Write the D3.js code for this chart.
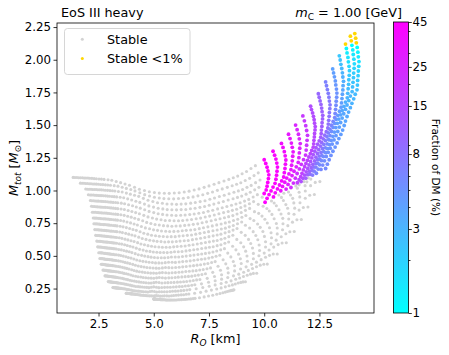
<!DOCTYPE html>
<html>
<head>
<meta charset="utf-8">
<style>
  body { margin: 0; background: #fff; }
  svg text { font-family: "DejaVu Sans", sans-serif; fill: #000; }
</style>
</head>
<body>
<div class="container"></div>
<script src="https://d3js.org/d3.v7.min.js"></script>
<script>
/*
    Data: every sequence of solutions (one array per sequence),
    R_O in km and M_tot in solar masses
*/
const seq_R = [
  [1.35,1.68,1.92,2.04,2.13,2.18,2.22,2.26,2.29,2.33,2.37,2.42,2.46,2.51,2.56,2.62,2.70,2.79,2.94,3.15,3.75,5.00],
  [1.43,1.76,2.00,2.12,2.20,2.25,2.29,2.33,2.35,2.39,2.43,2.47,2.51,2.56,2.61,2.66,2.74,2.82,2.97,3.17,3.77,5.01],
  [1.52,1.84,2.08,2.19,2.28,2.32,2.36,2.39,2.42,2.45,2.48,2.53,2.56,2.61,2.65,2.70,2.78,2.86,3.00,3.20,3.78,5.01],
  [1.60,1.92,2.16,2.27,2.35,2.39,2.43,2.46,2.48,2.51,2.54,2.58,2.61,2.65,2.69,2.74,2.81,2.89,3.03,3.22,3.80,5.02],
  [1.68,2.00,2.23,2.34,2.43,2.46,2.49,2.52,2.54,2.57,2.60,2.64,2.66,2.70,2.74,2.79,2.85,2.92,3.06,3.25,3.82,5.03],
  [1.77,2.08,2.31,2.42,2.50,2.54,2.56,2.59,2.60,2.63,2.65,2.69,2.71,2.75,2.78,2.83,2.89,2.96,3.08,3.27,3.84,5.03],
  [1.85,2.16,2.39,2.50,2.58,2.61,2.63,2.65,2.67,2.69,2.71,2.74,2.77,2.80,2.83,2.87,2.92,2.99,3.11,3.29,3.85,5.04],
  [1.93,2.25,2.47,2.57,2.65,2.68,2.70,2.72,2.73,2.75,2.77,2.80,2.82,2.84,2.87,2.91,2.96,3.02,3.14,3.32,3.87,5.05],
  [2.02,2.33,2.55,2.65,2.72,2.75,2.77,2.79,2.79,2.81,2.83,2.85,2.87,2.89,2.92,2.95,3.00,3.06,3.17,3.34,3.89,5.05],
  [2.10,2.41,2.63,2.73,2.80,2.82,2.84,2.85,2.86,2.87,2.88,2.90,2.92,2.94,2.96,2.99,3.04,3.09,3.20,3.37,3.90,5.06],
  [2.20,2.50,2.72,2.82,2.89,2.91,2.92,2.93,2.93,2.94,2.95,2.97,2.98,2.99,3.01,3.04,3.08,3.13,3.23,3.40,3.92,5.07],
  [2.30,2.60,2.81,2.91,2.97,2.99,3.00,3.01,3.00,3.01,3.02,3.03,3.04,3.05,3.07,3.09,3.13,3.17,3.27,3.42,3.95,5.08],
  [2.40,2.70,2.91,3.00,3.06,3.07,3.08,3.09,3.08,3.08,3.08,3.10,3.10,3.11,3.12,3.13,3.17,3.21,3.30,3.45,3.97,5.09],
  [2.52,2.81,3.02,3.11,3.16,3.17,3.17,3.18,3.17,3.16,3.16,3.17,3.17,3.17,3.18,3.19,3.22,3.26,3.34,3.49,3.99,5.10],
  [2.63,2.92,3.13,3.21,3.27,3.27,3.27,3.27,3.25,3.25,3.24,3.24,3.24,3.24,3.24,3.25,3.27,3.30,3.38,3.52,4.01,5.11],
  [2.75,3.04,3.24,3.32,3.37,3.37,3.37,3.36,3.34,3.33,3.32,3.32,3.31,3.31,3.30,3.31,3.33,3.35,3.42,3.55,4.04,5.12],
  [2.93,3.21,3.40,3.48,3.53,3.52,3.51,3.50,3.48,3.46,3.44,3.44,3.42,3.41,3.40,3.40,3.41,3.42,3.49,3.61,4.08,5.14],
  [3.10,3.38,3.57,3.64,3.68,3.67,3.66,3.64,3.61,3.58,3.56,3.55,3.53,3.51,3.50,3.48,3.49,3.50,3.55,3.66,4.12,5.16],
  [3.30,3.57,3.76,3.82,3.86,3.84,3.82,3.79,3.76,3.73,3.70,3.68,3.65,3.62,3.60,3.58,3.58,3.58,3.62,3.72,4.16,5.18],
  [3.50,3.76,3.94,4.00,4.04,4.01,3.98,3.95,3.91,3.87,3.83,3.80,3.77,3.74,3.70,3.68,3.66,3.65,3.69,3.78,4.20,5.20],
  [3.70,3.96,4.13,4.19,4.21,4.18,4.14,4.11,4.06,4.01,3.97,3.93,3.89,3.85,3.81,3.78,3.76,3.74,3.76,3.84,4.25,5.23],
  [3.90,4.15,4.32,4.37,4.39,4.35,4.31,4.26,4.21,4.15,4.11,4.06,4.01,3.97,3.92,3.88,3.85,3.82,3.84,3.90,4.30,5.25],
  [4.13,4.37,4.53,4.58,4.59,4.55,4.50,4.44,4.38,4.32,4.27,4.21,4.16,4.10,4.05,4.00,3.96,3.92,3.93,3.98,4.36,5.28],
  [4.35,4.59,4.74,4.78,4.79,4.74,4.68,4.62,4.55,4.48,4.42,4.36,4.30,4.23,4.17,4.11,4.06,4.01,4.01,4.05,4.41,5.31],
  [4.58,4.81,4.96,4.99,5.00,4.94,4.87,4.81,4.73,4.65,4.58,4.52,4.45,4.37,4.30,4.23,4.18,4.12,4.10,4.13,4.47,5.35],
  [4.80,5.03,5.17,5.20,5.20,5.13,5.06,4.99,4.90,4.82,4.74,4.67,4.59,4.51,4.43,4.35,4.29,4.22,4.19,4.20,4.53,5.38],
  [5.03,5.25,5.39,5.41,5.40,5.33,5.25,5.17,5.08,4.99,4.90,4.83,4.74,4.65,4.56,4.48,4.41,4.33,4.29,4.29,4.60,5.42],
  [5.25,5.46,5.60,5.61,5.60,5.52,5.44,5.35,5.25,5.15,5.06,4.98,4.88,4.79,4.69,4.60,4.52,4.43,4.38,4.37,4.66,5.46],
  [5.48,5.68,5.82,5.82,5.81,5.72,5.63,5.54,5.43,5.33,5.23,5.14,5.03,4.94,4.83,4.73,4.64,4.54,4.48,4.46,4.73,5.51],
  [5.70,5.90,6.03,6.03,6.01,5.92,5.82,5.72,5.61,5.50,5.39,5.29,5.18,5.08,4.97,4.86,4.76,4.65,4.58,4.54,4.80,5.55],
  [5.93,6.12,6.24,6.24,6.22,6.12,6.01,5.91,5.79,5.67,5.56,5.45,5.34,5.23,5.11,4.99,4.88,4.77,4.68,4.64,4.88,5.60],
  [6.15,6.34,6.45,6.45,6.42,6.31,6.20,6.10,5.97,5.84,5.73,5.61,5.49,5.37,5.24,5.12,5.00,4.88,4.78,4.73,4.95,5.65],
  [6.38,6.56,6.67,6.66,6.63,6.51,6.40,6.29,6.15,6.02,5.90,5.78,5.65,5.52,5.39,5.26,5.13,5.00,4.89,4.83,5.03,5.71],
  [6.60,6.78,6.88,6.87,6.83,6.71,6.59,6.47,6.33,6.19,6.06,5.94,5.80,5.67,5.53,5.39,5.25,5.11,5.00,4.92,5.11,5.76],
  [6.83,7.00,7.10,7.09,7.04,6.92,6.79,6.67,6.52,6.38,6.24,6.11,5.97,5.83,5.68,5.54,5.39,5.24,5.12,5.03,5.20,5.82],
  [7.05,7.22,7.32,7.30,7.25,7.12,6.99,6.86,6.71,6.56,6.42,6.28,6.13,5.98,5.83,5.68,5.53,5.37,5.23,5.13,5.29,5.88],
  [7.28,7.44,7.54,7.51,7.46,7.33,7.19,7.06,6.90,6.75,6.60,6.46,6.30,6.15,5.99,5.83,5.68,5.51,5.36,5.25,5.39,5.95],
  [7.50,7.66,7.75,7.72,7.67,7.53,7.39,7.25,7.09,6.93,6.78,6.63,6.47,6.31,6.15,5.98,5.82,5.64,5.49,5.36,5.48,6.02],
  [7.73,7.88,7.97,7.94,7.89,7.74,7.60,7.45,7.29,7.12,6.97,6.81,6.65,6.48,6.31,6.14,5.97,5.78,5.62,5.48,5.59,6.10],
  [7.95,8.10,8.19,8.15,8.10,7.95,7.80,7.65,7.48,7.31,7.15,6.98,6.82,6.65,6.47,6.29,6.11,5.92,5.75,5.60,5.69,6.17],
  [8.18,8.33,8.41,8.37,8.31,8.16,8.00,7.85,7.68,7.50,7.34,7.17,7.00,6.82,6.64,6.45,6.27,6.07,5.89,5.73,5.80,6.25],
  [8.40,8.55,8.63,8.59,8.52,8.37,8.20,8.05,7.87,7.69,7.52,7.35,7.17,6.99,6.80,6.61,6.42,6.21,6.02,5.85,5.90,6.33],
  [8.60,8.75,8.83,8.79,8.72,8.56,8.39,8.24,8.06,7.87,7.70,7.52,7.34,7.16,6.96,6.77,6.57,6.35,6.16,5.98,6.01,6.42],
  [8.80,8.94,9.02,8.98,8.91,8.75,8.58,8.42,8.24,8.04,7.87,7.69,7.51,7.32,7.12,6.92,6.72,6.49,6.29,6.10,6.12,6.50],
  [9.00,9.14,9.22,9.18,9.11,8.94,8.77,8.61,8.42,8.23,8.05,7.87,7.68,7.49,7.29,7.08,6.87,6.64,6.43,6.23,6.24,6.59],
  [9.20,9.34,9.41,9.37,9.30,9.13,8.96,8.80,8.60,8.41,8.22,8.04,7.85,7.65,7.45,7.24,7.02,6.79,6.57,6.36,6.35,6.68],
  [9.40,9.54,9.61,9.57,9.50,9.33,9.15,8.99,8.79,8.59,8.40,8.22,8.03,7.82,7.62,7.41,7.18,6.94,6.72,6.50,6.47,6.78],
  [9.60,9.73,9.81,9.76,9.69,9.52,9.34,9.17,8.98,8.77,8.58,8.39,8.20,7.99,7.78,7.57,7.34,7.09,6.86,6.63,6.59,6.87],
  [10.00,10.07,10.13,10.17,10.21,10.19,10.16,10.13,10.09,10.00,9.91,9.73,9.56,9.36,9.15,8.96,8.76,8.57,8.35,8.14,7.91,7.67,7.42,7.16,6.92,6.85,7.07],
  [10.40,10.47,10.53,10.57,10.60,10.58,10.56,10.53,10.49,10.40,10.31,10.22,10.13,10.04,9.95,9.75,9.53,9.34,9.14,8.94,8.72,8.49,8.26,8.02,7.75,7.48,7.22,7.12,7.28],
  [10.78,10.85,10.91,10.95,10.98,10.96,10.94,10.91,10.88,10.79,10.69,10.60,10.50,10.42,10.33,10.12,9.90,9.70,9.50,9.29,9.07,8.84,8.60,8.35,8.07,7.78,7.51,7.37,7.48],
  [11.10,11.17,11.23,11.27,11.31,11.29,11.27,11.24,11.21,11.12,11.02,10.93,10.83,10.75,10.66,10.45,10.23,10.03,9.82,9.62,9.39,9.16,8.92,8.66,8.37,8.07,7.78,7.61,7.67],
  [11.42,11.49,11.55,11.59,11.63,11.61,11.59,11.57,11.54,11.45,11.35,11.26,11.16,11.08,10.99,10.89,10.78,10.55,10.35,10.14,9.94,9.71,9.47,9.22,8.96,8.66,8.35,8.05,7.85,7.85],
  [11.75,11.82,11.88,11.92,11.96,11.94,11.92,11.90,11.87,11.78,11.68,11.59,11.49,11.41,11.32,11.21,11.10,10.87,10.67,10.45,10.24,10.01,9.77,9.51,9.24,8.93,8.61,8.28,8.05,8.00],
  [12.10,12.14,12.19,12.23,12.26,12.28,12.31,12.30,12.28,12.27,12.25,12.24,12.22,12.15,12.09,12.02,11.96,11.89,11.83,11.77,11.71,11.65,11.58,11.50,11.43,11.19,10.98,10.76,10.55,10.31,10.06,9.79,9.51,9.18,8.85,8.50,8.24,8.13],
  [12.45,12.49,12.53,12.57,12.60,12.62,12.65,12.64,12.62,12.61,12.59,12.58,12.56,12.49,12.42,12.35,12.29,12.22,12.16,12.10,12.03,11.97,11.90,11.82,11.75,11.67,11.58,11.50,11.29,11.06,10.84,10.59,10.33,10.06,9.76,9.43,9.07,8.71,8.41,8.24],
  [12.78,12.82,12.86,12.90,12.93,12.95,12.98,12.97,12.95,12.94,12.92,12.90,12.88,12.81,12.74,12.67,12.60,12.54,12.47,12.41,12.34,12.28,12.20,12.13,12.05,11.97,11.88,11.80,11.58,11.34,11.11,10.85,10.59,10.31,10.00,9.65,9.28,8.89,8.56,8.33],
  [13.10,13.14,13.18,13.22,13.24,13.27,13.29,13.28,13.26,13.25,13.23,13.21,13.19,13.12,13.04,12.97,12.90,12.84,12.77,12.70,12.64,12.57,12.49,12.42,12.34,12.25,12.17,12.08,12.00,11.93,11.85,11.61,11.38,11.11,10.83,10.54,10.22,9.86,9.47,9.06,8.69,8.41],
  [13.40,13.44,13.47,13.51,13.54,13.56,13.59,13.57,13.56,13.54,13.52,13.50,13.48,13.41,13.33,13.26,13.19,13.12,13.05,12.98,12.92,12.85,12.77,12.69,12.61,12.52,12.43,12.34,12.26,12.19,12.11,11.86,11.62,11.35,11.07,10.77,10.43,10.06,9.65,9.23,8.82,8.48],
  [13.68,13.72,13.75,13.79,13.81,13.84,13.86,13.85,13.83,13.82,13.80,13.78,13.76,13.68,13.61,13.53,13.46,13.38,13.31,13.24,13.18,13.11,13.03,12.95,12.87,12.78,12.68,12.59,12.51,12.44,12.36,12.10,11.86,11.58,11.28,10.98,10.63,10.24,9.82,9.38,8.94,8.54],
  [13.90,13.94,13.97,14.01,14.03,14.06,14.08,14.07,14.05,14.04,14.02,14.00,13.98,13.90,13.83,13.75,13.68,13.60,13.53,13.46,13.40,13.33,13.25,13.16,13.08,12.99,12.90,12.81,12.73,12.65,12.57,12.31,12.06,11.77,11.48,11.16,10.81,10.41,9.98,9.51,9.04,8.59],
  [14.10,14.14,14.17,14.21,14.24,14.26,14.29,14.28,14.26,14.25,14.23,14.22,14.20,14.12,14.05,13.97,13.90,13.82,13.75,13.68,13.62,13.55,13.47,13.38,13.30,13.21,13.11,13.02,12.94,12.86,12.78,12.52,12.27,11.98,11.68,11.36,11.00,10.59,10.14,9.66,9.15,8.63]
];
const seq_M = [
  [1.100,1.056,1.011,.967,.923,.879,.834,.790,.746,.701,.657,.613,.569,.524,.480,.436,.391,.347,.303,.258,.214,.170],
  [1.099,1.055,1.010,.966,.922,.878,.833,.789,.745,.700,.656,.612,.568,.524,.479,.435,.391,.347,.302,.258,.214,.170],
  [1.099,1.055,1.010,.966,.921,.877,.833,.789,.745,.700,.656,.612,.568,.523,.479,.435,.390,.346,.302,.257,.214,.170],
  [1.098,1.054,1.009,.965,.920,.876,.832,.788,.744,.699,.655,.611,.567,.523,.478,.434,.390,.346,.301,.257,.214,.170],
  [1.097,1.053,1.008,.964,.919,.875,.831,.787,.743,.698,.654,.610,.566,.522,.477,.433,.389,.345,.300,.256,.213,.170],
  [1.097,1.052,1.008,.963,.919,.874,.830,.785,.741,.697,.653,.608,.564,.520,.475,.431,.387,.344,.300,.256,.213,.169],
  [1.096,1.051,1.007,.962,.918,.873,.829,.784,.740,.696,.652,.607,.563,.519,.474,.430,.386,.343,.299,.255,.212,.169],
  [1.095,1.050,1.006,.961,.917,.872,.828,.783,.739,.695,.651,.606,.562,.518,.473,.429,.385,.342,.298,.255,.212,.169],
  [1.095,1.050,1.006,.961,.916,.872,.828,.783,.739,.694,.650,.606,.561,.517,.473,.429,.385,.342,.298,.254,.212,.169],
  [1.094,1.049,1.005,.960,.915,.871,.827,.782,.738,.693,.649,.605,.560,.516,.472,.428,.384,.341,.297,.254,.212,.169],
  [1.093,1.048,1.004,.959,.914,.870,.825,.781,.737,.692,.648,.604,.559,.515,.471,.427,.383,.340,.296,.253,.211,.169],
  [1.091,1.046,1.002,.957,.912,.868,.824,.779,.735,.690,.646,.602,.558,.513,.470,.426,.382,.339,.296,.253,.211,.168],
  [1.090,1.045,1.001,.956,.911,.867,.822,.778,.734,.689,.645,.601,.557,.512,.469,.425,.381,.338,.295,.252,.210,.168],
  [1.088,1.043,.999,.954,.909,.865,.820,.776,.732,.688,.644,.599,.555,.511,.467,.424,.380,.337,.294,.251,.210,.168],
  [1.087,1.042,.998,.953,.908,.863,.819,.775,.731,.686,.642,.598,.554,.509,.466,.422,.379,.336,.293,.251,.209,.168],
  [1.085,1.040,.996,.951,.906,.861,.817,.773,.729,.685,.641,.596,.552,.508,.464,.421,.378,.335,.292,.250,.209,.168],
  [1.082,1.037,.992,.948,.903,.858,.814,.770,.726,.682,.638,.593,.549,.506,.462,.419,.376,.333,.291,.249,.208,.168],
  [1.078,1.033,.988,.944,.899,.855,.810,.766,.722,.678,.634,.590,.546,.503,.459,.416,.373,.331,.289,.248,.207,.167],
  [1.069,1.025,.980,.936,.891,.847,.803,.759,.716,.672,.628,.585,.541,.498,.455,.412,.370,.328,.287,.246,.206,.167],
  [1.060,1.016,.972,.927,.883,.839,.796,.752,.709,.666,.622,.579,.536,.493,.450,.408,.366,.324,.284,.244,.205,.166],
  [1.050,1.007,.964,.918,.874,.831,.788,.744,.702,.660,.616,.574,.531,.488,.446,.404,.363,.321,.282,.243,.204,.166],
  [1.040,.997,.955,.909,.865,.822,.779,.736,.695,.653,.610,.568,.525,.483,.441,.400,.359,.318,.279,.241,.203,.166],
  [1.025,.983,.940,.896,.853,.810,.768,.725,.684,.643,.601,.559,.517,.476,.435,.394,.354,.314,.276,.238,.202,.166],
  [1.010,.968,.925,.882,.840,.798,.756,.714,.673,.633,.591,.550,.509,.468,.428,.388,.348,.310,.272,.235,.200,.165],
  [1.000,.958,.916,.873,.831,.790,.748,.707,.666,.626,.585,.544,.504,.463,.423,.383,.344,.307,.269,.233,.199,.165],
  [.990,.948,.906,.864,.822,.781,.740,.699,.658,.619,.578,.537,.498,.458,.418,.378,.340,.303,.266,.231,.198,.164],
  [.985,.943,.902,.859,.817,.776,.736,.695,.654,.615,.574,.534,.494,.455,.415,.376,.338,.301,.265,.230,.197,.164],
  [.980,.938,.897,.854,.812,.771,.731,.690,.650,.611,.570,.530,.490,.451,.411,.373,.335,.298,.263,.229,.196,.164],
  [.979,.937,.896,.853,.811,.770,.729,.688,.648,.609,.568,.528,.488,.449,.409,.371,.333,.296,.262,.228,.195,.164],
  [.978,.936,.894,.852,.809,.768,.727,.686,.646,.606,.566,.526,.485,.446,.407,.368,.331,.294,.260,.226,.194,.163],
  [.981,.939,.896,.854,.811,.769,.728,.687,.647,.607,.566,.526,.485,.446,.406,.368,.330,.293,.259,.225,.194,.163],
  [.983,.941,.898,.855,.812,.770,.729,.688,.647,.607,.566,.525,.485,.445,.405,.367,.329,.292,.257,.224,.193,.162],
  [.989,.946,.903,.860,.816,.774,.733,.692,.651,.610,.569,.528,.488,.448,.408,.370,.332,.295,.260,.227,.195,.162],
  [.995,.951,.908,.864,.820,.778,.736,.695,.654,.613,.572,.531,.491,.451,.411,.372,.335,.298,.263,.229,.197,.162],
  [1.004,.959,.915,.871,.826,.784,.741,.698,.657,.616,.574,.532,.491,.451,.410,.371,.333,.296,.260,.227,.195,.162],
  [1.012,.967,.922,.877,.832,.789,.745,.701,.660,.618,.576,.533,.491,.450,.409,.369,.330,.293,.257,.224,.192,.162],
  [1.024,.978,.933,.887,.841,.797,.753,.708,.666,.624,.581,.538,.495,.453,.411,.371,.332,.294,.258,.225,.193,.163],
  [1.035,.989,.943,.896,.849,.804,.760,.715,.672,.629,.585,.542,.498,.456,.413,.372,.333,.295,.259,.225,.194,.163],
  [1.048,1.001,.954,.906,.859,.813,.768,.722,.679,.635,.591,.547,.502,.459,.416,.375,.335,.296,.260,.226,.194,.164],
  [1.060,1.012,.964,.916,.868,.822,.776,.729,.685,.641,.596,.551,.506,.462,.419,.377,.337,.297,.260,.226,.193,.164],
  [1.073,1.024,.975,.927,.878,.831,.784,.737,.692,.647,.602,.556,.510,.466,.422,.380,.339,.299,.262,.228,.195,.165],
  [1.085,1.036,.986,.937,.887,.839,.792,.744,.698,.653,.607,.561,.514,.470,.425,.382,.341,.300,.263,.229,.197,.166],
  [1.098,1.048,.997,.947,.897,.848,.800,.752,.705,.660,.613,.566,.519,.474,.429,.385,.343,.302,.265,.230,.199,.167],
  [1.110,1.059,1.008,.957,.906,.857,.808,.759,.712,.666,.618,.570,.523,.477,.432,.387,.345,.304,.266,.231,.200,.168],
  [1.128,1.076,1.024,.972,.919,.870,.820,.770,.722,.676,.627,.578,.530,.483,.437,.392,.349,.308,.269,.234,.202,.170],
  [1.145,1.093,1.039,.986,.932,.882,.832,.780,.732,.685,.635,.585,.537,.489,.442,.396,.353,.312,.271,.236,.203,.171],
  [1.168,1.114,1.060,1.005,.950,.899,.848,.795,.746,.697,.647,.596,.546,.497,.449,.402,.358,.316,.275,.239,.206,.173],
  [1.190,1.135,1.080,1.024,.968,.915,.863,.809,.759,.709,.658,.606,.555,.505,.456,.408,.363,.319,.279,.242,.208,.175],
  [1.235,1.207,1.178,1.149,1.120,1.091,1.062,1.033,1.004,.977,.949,.894,.838,.785,.734,.680,.626,.573,.521,.470,.420,.374,.328,.286,.248,.214,.180],
  [1.300,1.270,1.240,1.210,1.179,1.148,1.117,1.086,1.055,1.026,.997,.969,.940,.910,.880,.825,.770,.713,.657,.600,.546,.492,.439,.390,.342,.298,.258,.221,.186],
  [1.360,1.329,1.297,1.265,1.233,1.201,1.168,1.136,1.103,1.073,1.042,1.012,.982,.951,.920,.862,.804,.744,.685,.626,.569,.513,.457,.406,.355,.310,.268,.230,.193],
  [1.430,1.397,1.363,1.330,1.296,1.262,1.227,1.193,1.159,1.127,1.095,1.063,1.031,.998,.965,.904,.843,.780,.718,.656,.595,.536,.478,.424,.370,.322,.278,.238,.199],
  [1.500,1.465,1.430,1.395,1.359,1.323,1.287,1.251,1.215,1.181,1.147,1.114,1.080,1.046,1.011,.979,.947,.883,.817,.751,.686,.623,.560,.499,.442,.385,.335,.289,.247,.206],
  [1.570,1.533,1.496,1.459,1.422,1.384,1.346,1.309,1.271,1.236,1.200,1.165,1.130,1.094,1.057,1.023,.989,.923,.853,.784,.715,.649,.583,.519,.459,.400,.347,.298,.255,.212],
  [1.645,1.619,1.593,1.567,1.541,1.515,1.489,1.463,1.436,1.410,1.384,1.357,1.331,1.306,1.281,1.256,1.231,1.207,1.182,1.157,1.131,1.106,1.082,1.059,1.035,.965,.892,.820,.747,.677,.608,.541,.478,.416,.360,.309,.263,.218],
  [1.740,1.713,1.685,1.658,1.630,1.603,1.575,1.547,1.518,1.490,1.462,1.435,1.407,1.380,1.354,1.327,1.301,1.275,1.249,1.222,1.195,1.168,1.143,1.118,1.093,1.068,1.043,1.018,.940,.864,.787,.713,.639,.568,.501,.435,.375,.321,.271,.223],
  [1.830,1.801,1.772,1.743,1.714,1.684,1.655,1.626,1.596,1.567,1.537,1.508,1.478,1.450,1.423,1.395,1.367,1.340,1.312,1.283,1.255,1.226,1.200,1.174,1.147,1.121,1.094,1.068,.986,.905,.824,.746,.668,.592,.521,.452,.389,.331,.278,.227],
  [1.930,1.899,1.869,1.838,1.807,1.776,1.745,1.714,1.683,1.652,1.621,1.589,1.558,1.528,1.499,1.469,1.440,1.411,1.382,1.352,1.321,1.291,1.263,1.235,1.207,1.179,1.152,1.124,1.095,1.066,1.037,.951,.865,.782,.700,.620,.545,.471,.403,.342,.285,.231],
  [2.030,1.998,1.965,1.933,1.900,1.868,1.835,1.802,1.769,1.736,1.703,1.670,1.637,1.606,1.575,1.544,1.513,1.482,1.451,1.419,1.388,1.356,1.326,1.297,1.267,1.238,1.208,1.179,1.148,1.118,1.087,.996,.906,.818,.731,.646,.567,.489,.417,.352,.292,.234],
  [2.120,2.086,2.052,2.018,1.984,1.950,1.916,1.881,1.847,1.812,1.778,1.743,1.709,1.676,1.644,1.611,1.579,1.546,1.514,1.481,1.447,1.414,1.383,1.351,1.320,1.289,1.259,1.228,1.196,1.164,1.132,1.037,.941,.850,.758,.669,.586,.504,.429,.360,.297,.236],
  [2.180,2.145,2.110,2.075,2.040,2.004,1.969,1.934,1.898,1.863,1.827,1.792,1.756,1.722,1.688,1.654,1.621,1.587,1.554,1.520,1.485,1.451,1.419,1.387,1.355,1.323,1.292,1.260,1.227,1.194,1.161,1.062,.964,.870,.776,.684,.598,.514,.436,.366,.301,.238],
  [2.200,2.165,2.129,2.094,2.058,2.022,1.986,1.950,1.914,1.878,1.842,1.806,1.770,1.736,1.701,1.667,1.633,1.600,1.566,1.531,1.497,1.462,1.429,1.397,1.364,1.332,1.300,1.268,1.235,1.201,1.168,1.068,.969,.874,.778,.686,.600,.514,.437,.367,.302,.240]
];
// fraction of DM (%) for the last sequences; only their first points carry a colour
const frac_DM = [
  [44,44.2,44.5,44.8,45,45,45,45,45,45],
  [41,41.2,41.5,41.8,42,42.3,42.6,42.8,43.1,43.4,43.6,43.8,44.1,44.3],
  [37,37.2,37.5,37.8,38,38.3,38.6,38.8,39.1,39.4,39.6,39.8,40.1,40.3],
  [31,31.2,31.5,31.8,32,32.3,32.6,32.8,33.1,33.4,33.6,33.8,34.1,34.3],
  [25,25.2,25.5,25.8,26,26.3,26.6,26.8,27.1,27.4,27.6,27.8,28.1,28.4,28.7],
  [19,19.2,19.5,19.8,20,20.3,20.6,20.8,21.1,21.4,21.6,21.8,22.1,22.4,22.7,22.9],
  [14,14.2,14.3,14.5,14.7,14.9,15,15.2,15.4,15.6,15.7,15.9,16.1,16.3,16.4,16.6,16.8,17,17.1,17.3,17.5,17.7,17.8,18],
  [9.5,9.7,9.8,10,10.2,10.4,10.5,10.7,10.9,11.1,11.2,11.4,11.6,11.8,11.9,12.1,12.3,12.5,12.6,12.8,13,13.2,13.3,13.5,13.7,13.9],
  [6.5,6.7,6.8,7,7.2,7.4,7.5,7.7,7.9,8.1,8.2,8.4,8.6,8.8,8.9,9.1,9.3,9.5,9.6,9.8,10,10.2,10.3,10.5,10.7,10.9,11],
  [4,4.2,4.3,4.5,4.7,4.9,5,5.2,5.4,5.6,5.7,5.9,6.1,6.3,6.4,6.6,6.8,7,7.1,7.3,7.5,7.7,7.8,8,8.2,8.4,8.5,8.7],
  [2.3,2.5,2.6,2.8,3,3.2,3.3,3.5,3.7,3.9,4,4.2,4.4,4.6,4.7,4.9,5.1,5.3,5.4,5.6,5.8,6,6.1,6.3,6.5,6.7,6.8,7,7.2,7.4],
  [0.95,1.1,1.3,1.5,1.6,1.8,2,2.2,2.3,2.5,2.7,2.9,3,3.2,3.4,3.6,3.7,3.9,4.1,4.3,4.4,4.6,4.8,5,5.1,5.3,5.5,5.7,5.8,6,6.2],
  [0.7,0.9,1,1.2,1.4,1.6,1.7,1.9,2.1,2.3,2.4,2.6,2.8,3,3.1,3.3,3.5,3.7,3.8,4,4.2,4.4,4.5,4.7,4.9,5.1,5.2,5.4,5.6,5.8,5.9],
  [0.5,0.7,0.8,1,1.2,1.4,1.5,1.7,1.9,2.1,2.2,2.4,2.6,2.8,2.9,3.1,3.3,3.5,3.6,3.8,4,4.2,4.3,4.5,4.7,4.9,5,5.2,5.4,5.6,5.7]
];
const x_ticks = [2.5, 5.0, 7.5, 10.0, 12.5];
const y_ticks = [0.25, 0.50, 0.75, 1.00, 1.25, 1.50, 1.75, 2.00, 2.25];
const cbar_ticks = [1, 3, 8, 15, 25, 45];
const cbar_minor = [2, 4, 5, 6, 7, 9, 20, 30, 40];
const legend_labels = ["Stable", "Stable <1%"];

/*
    Configuration variables
*/
const svg_dims = { width: 449, height: 355 };
const plot = { left: 57, right: 374, top: 23, bottom: 313 };
const cbar = { left: 393.5, right: 408.5, top: 22, bottom: 313 };
const stable_color = "#d3d3d3";
const low_color = "#ffd700";
const tick_font = 11.8;
const label_font = 12.8;

const x_scale = d3.scaleLinear().domain([0.62, 14.97]).range([plot.left, plot.right]);
const y_scale = d3.scaleLinear().domain([0.063, 2.281]).range([plot.bottom, plot.top]);
const frac_norm = d3.scaleLog().domain([1, 45]).range([0, 1]).clamp(true);
// matplotlib "cool": cyan -> magenta
const cool = t => d3.rgb(255 * t, 255 * (1 - t), 255).formatHex();
const cbar_scale = d3.scaleLog().domain([1, 45]).range([cbar.bottom, cbar.top]);

const svg = d3.select(".container").append("svg")
    .attr("width", svg_dims.width)
    .attr("height", svg_dims.height);

/* Data formatting */
let stable_points = [];
let dm_points = [];
const offset = seq_R.length - frac_DM.length;
seq_R.forEach((r_list, s) => {
    const f_list = s >= offset ? frac_DM[s - offset] : [];
    r_list.forEach((r, k) => {
        const p = { r: r, m: seq_M[s][k], f: f_list[k] };
        if (p.f === undefined) stable_points.push(p);
        else dm_points.push(p);
    });
});

/* Points */
svg.append("g").selectAll("circle")
    .data(stable_points)
    .enter().append("circle")
    .attr("cx", d => x_scale(d.r))
    .attr("cy", d => y_scale(d.m))
    .attr("r", 1.55)
    .attr("fill", stable_color);

svg.append("g").selectAll("circle")
    .data(dm_points)
    .enter().append("circle")
    .attr("cx", d => x_scale(d.r))
    .attr("cy", d => y_scale(d.m))
    .attr("r", 1.9)
    .attr("fill", d => d.f < 1 ? low_color : cool(frac_norm(d.f)));

/* Axes */
function style_axis(g) {
    g.select(".domain").remove();
    g.selectAll(".tick line").attr("stroke", "#000").attr("stroke-width", 0.8);
    g.selectAll(".tick text").attr("font-size", tick_font).attr("fill", "#000");
}

svg.append("g")
    .attr("transform", `translate(0,${plot.bottom})`)
    .call(d3.axisBottom(x_scale).tickValues(x_ticks).tickFormat(d3.format(".1f")).tickSize(3.5).tickPadding(3.5))
    .call(style_axis);

svg.append("g")
    .attr("transform", `translate(${plot.left},0)`)
    .call(d3.axisLeft(y_scale).tickValues(y_ticks).tickFormat(d3.format(".2f")).tickSize(3.5).tickPadding(2.5))
    .call(style_axis);

svg.append("rect")
    .attr("x", plot.left).attr("y", plot.top)
    .attr("width", plot.right - plot.left).attr("height", plot.bottom - plot.top)
    .attr("fill", "none").attr("stroke", "#000").attr("stroke-width", 0.8);

/* Legend */
const legend = svg.append("g");
legend.append("rect")
    .attr("x", 64.5).attr("y", 28.5).attr("width", 125.5).attr("height", 46)
    .attr("rx", 3).attr("fill", "#fff").attr("fill-opacity", 0.8)
    .attr("stroke", "#ccc").attr("stroke-width", 0.8);
legend_labels.forEach((label, k) => {
    legend.append("circle")
        .attr("cx", 82.3).attr("cy", 39.3 + k * 19.3)
        .attr("r", 1.5)
        .attr("fill", k === 0 ? stable_color : low_color);
    legend.append("text")
        .attr("x", 107).attr("y", 43.6 + k * 19.3)
        .attr("font-size", label_font)
        .text(label);
});

/* Colorbar */
const defs = svg.append("defs");
const grad = defs.append("linearGradient")
    .attr("id", "cool_grad")
    .attr("x1", 0).attr("y1", 1).attr("x2", 0).attr("y2", 0);
d3.range(0, 1.0001, 0.1).forEach(t => {
    grad.append("stop").attr("offset", t).attr("stop-color", cool(t));
});
svg.append("rect")
    .attr("x", cbar.left).attr("y", cbar.top)
    .attr("width", cbar.right - cbar.left).attr("height", cbar.bottom - cbar.top)
    .attr("fill", "url(#cool_grad)")
    .attr("stroke", "#000").attr("stroke-width", 0.8);

svg.append("g")
    .attr("transform", `translate(${cbar.right},0)`)
    .call(d3.axisRight(cbar_scale).tickValues(cbar_ticks).tickFormat(d3.format("d")).tickSize(3.3).tickPadding(0.8))
    .call(style_axis);
svg.append("g")
    .attr("transform", `translate(${cbar.right},0)`)
    .call(d3.axisRight(cbar_scale).tickValues(cbar_minor).tickFormat("").tickSize(2))
    .call(style_axis);

svg.append("text")
    .attr("transform", `translate(432,${(cbar.top + cbar.bottom) / 2}) rotate(90)`)
    .attr("text-anchor", "middle")
    .attr("font-size", 10.5)
    .text("Fraction of DM (%)");

/* Texts with sub-scripts */
function math_text(sel, parts, size) {
    parts.forEach(p => {
        const t = sel.append("tspan").text(p.t);
        if (p.it) t.attr("font-style", "italic");
        if (p.sub) t.attr("font-size", size * 0.7).attr("dy", size * 0.22);
        if (p.up) t.attr("dy", -size * 0.22);
    });
}

svg.append("text")
    .attr("x", 61).attr("y", 17)
    .attr("font-size", label_font)
    .text("EoS III heavy");

const title_right = svg.append("text")
    .attr("x", 402).attr("y", 17)
    .attr("text-anchor", "end")
    .attr("font-size", label_font);
math_text(title_right, [
    { t: "m", it: true }, { t: "C", sub: true }, { t: " = 1.00 [GeV]", up: true }
], label_font);

const x_label = svg.append("text")
    .attr("x", (plot.left + plot.right) / 2).attr("y", 343)
    .attr("text-anchor", "middle")
    .attr("font-size", label_font);
math_text(x_label, [
    { t: "R", it: true }, { t: "O", it: true, sub: true }, { t: " [km]", up: true }
], label_font);

const y_label = svg.append("text")
    .attr("transform", `translate(18,${(plot.top + plot.bottom) / 2}) rotate(-90)`)
    .attr("text-anchor", "middle")
    .attr("font-size", label_font);
math_text(y_label, [
    { t: "M", it: true }, { t: "tot", it: true, sub: true }, { t: " [", up: true },
    { t: "M", it: true }, { t: "⊙", sub: true }, { t: "]", up: true }
], label_font);
</script>
</body>
</html>
